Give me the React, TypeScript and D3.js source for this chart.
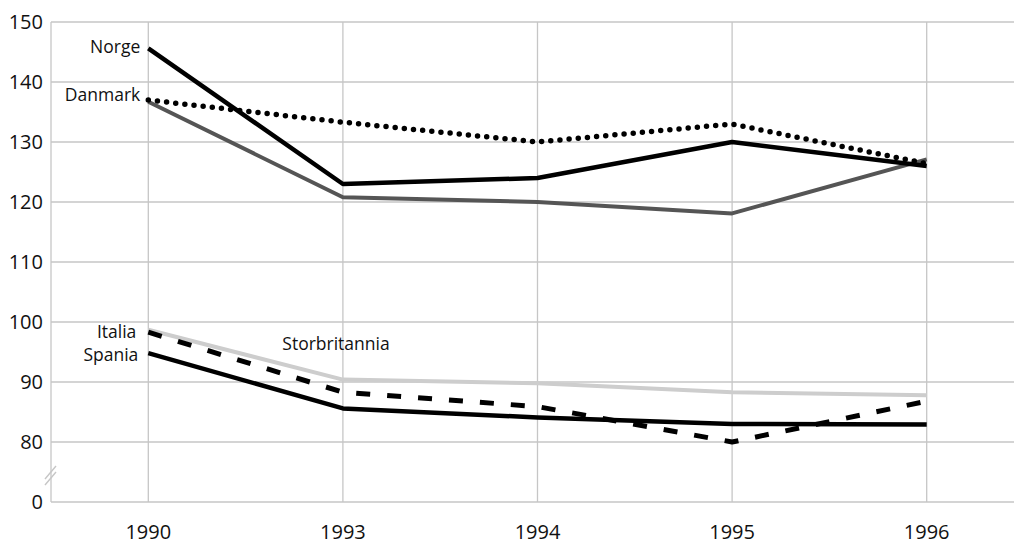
import * as d3 from 'd3';
import React, { useMemo } from 'react';

const WIDTH = 1014;
const HEIGHT = 544;

const years = ['1990', '1993', '1994', '1995', '1996'];
const yTicks = [0, 80, 90, 100, 110, 120, 130, 140, 150];

const norge = [145.6, 123, 124, 130, 126];
const danmark = [136.7, 120.8, 120, 118.1, 127.1];
const sverige = [137, 133.3, 130, 133, 126.4];
const italia = [98.3, 88.3, 85.9, 80, 86.8];
const spania = [94.8, 85.6, 84.1, 83, 82.9];
const storbritannia = [98.7, 90.4, 89.8, 88.3, 87.8];

type Series = {
    name: string;
    values: number[];
    color: string;
    width: number;
    dash?: string;
    cap?: 'round' | 'butt';
    label?: { dx: number; dy: number; anchor: 'start' | 'end'; at: number };
};

const series: Series[] = [
    { name: 'Storbritannia', values: storbritannia, color: '#cdcdcd', width: 4,
        label: { dx: 134, dy: 14, anchor: 'start', at: 0 } },
    { name: 'Danmark', values: danmark, color: '#555', width: 4,
        label: { dx: -8, dy: -7, anchor: 'end', at: 0 } },
    { name: 'Sverige', values: sverige, color: '#000', width: 5.5, dash: '0 9.2', cap: 'round' },
    { name: 'Norge', values: norge, color: '#000', width: 4.5,
        label: { dx: -8, dy: -2, anchor: 'end', at: 0 } },
    { name: 'Spania', values: spania, color: '#000', width: 4.5,
        label: { dx: -10, dy: 2, anchor: 'end', at: 0 } },
    { name: 'Italia', values: italia, color: '#000', width: 5, dash: '14 17',
        label: { dx: -12, dy: 0, anchor: 'end', at: 0 } },
];

const FONT = '"Open Sans", "Noto Sans", sans-serif';
const GRID = '#c6c6c6';

export default function App() {
    const left = 51;

    const x = useMemo(
        () => d3.scalePoint<string>().domain(years).range([left, left + 5 * 194.6]).padding(0.5),
        []
    );
    // broken axis: 0 sits one step below 80
    const y = useMemo(
        () => d3.scaleLinear().domain([0, 80, 150]).range([502, 442, 22]),
        []
    );

    const line = d3
        .line<number>()
        .x((_, i) => x(years[i]) ?? 0)
        .y((d) => y(d));

    const top = y(150);
    const bottom = y(0);

    return (
        <svg
            width={WIDTH}
            height={HEIGHT}
            style={{ position: 'absolute', top: 0, left: 0, background: '#fff' }}
            fontFamily={FONT}
        >
            {/* horizontal grid */}
            {yTicks.map((t) => (
                <line key={`h${t}`} x1={left} x2={WIDTH} y1={y(t)} y2={y(t)} stroke={GRID} strokeWidth={1.3} />
            ))}
            {/* vertical grid + left axis */}
            <line x1={left} x2={left} y1={top} y2={bottom} stroke={GRID} strokeWidth={1.3} />
            {years.map((yr) => (
                <line key={`v${yr}`} x1={x(yr)} x2={x(yr)} y1={top} y2={bottom} stroke={GRID} strokeWidth={1.3} />
            ))}

            {/* axis break marks */}
            <g stroke={GRID} strokeWidth={1.4}>
                <line x1={45} y1={479} x2={56} y2={466} />
                <line x1={45} y1={485} x2={56} y2={472} />
            </g>

            {/* y tick labels */}
            {yTicks.map((t) => (
                <text key={`t${t}`} x={43} y={y(t)} dy="0.35em" textAnchor="end" fontSize={20} fill="#111">
                    {t}
                </text>
            ))}

            {/* x labels */}
            {years.map((yr) => (
                <text key={`x${yr}`} x={x(yr)} y={539} textAnchor="middle" fontSize={20} fill="#111">
                    {yr}
                </text>
            ))}

            {/* series */}
            {series.map((s) => (
                <path
                    key={s.name}
                    d={line(s.values) ?? ''}
                    fill="none"
                    stroke={s.color}
                    strokeWidth={s.width}
                    strokeDasharray={s.dash}
                    strokeLinecap={s.cap ?? 'butt'}
                    strokeLinejoin="round"
                />
            ))}

            {/* labels */}
            {series.filter((s) => s.label).map((s) => {
                const l = s.label!;
                return (
                    <text
                        key={`l${s.name}`}
                        x={(x(years[l.at]) ?? 0) + l.dx}
                        y={y(s.values[l.at]) + l.dy}
                        dy="0.35em"
                        textAnchor={l.anchor}
                        fontSize={17.5}
                        fill="#111"
                    >
                        {s.name}
                    </text>
                );
            })}
        </svg>
    );
}
